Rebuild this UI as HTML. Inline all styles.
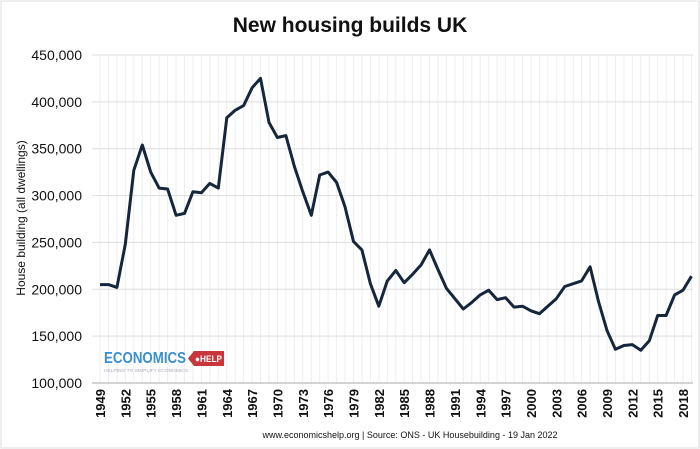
<!DOCTYPE html>
<html><head><meta charset="utf-8"><style>
body{margin:0;background:#fff;}
svg{display:block;font-family:"Liberation Sans",sans-serif;}
</style></head><body>
<svg id="c" width="700" height="449">
<rect x="1" y="1" width="698" height="447" fill="#fff" stroke="#ddd"/>
<text x="350" y="32" text-anchor="middle" font-size="21" font-weight="bold" fill="#111">New housing builds UK</text>
<text transform="translate(25,218) rotate(-90)" text-anchor="middle" font-size="12" fill="#111">House building (all dwellings)</text>
<g id="grid"></g><g id="yt"></g><g id="xt"></g>
<g>
<text x="104" y="363" font-size="16" font-weight="bold" fill="#3a8fd0" textLength="82" lengthAdjust="spacingAndGlyphs">ECONOMICS</text>
<path d="M194,351 h30 v15 h-30 l-6,-7.5z" fill="#c8363b"/>
<text x="195" y="362" font-size="9" font-weight="bold" fill="#fff" textLength="27" lengthAdjust="spacingAndGlyphs">●HELP</text>
<text x="104" y="372" font-size="4.5" fill="#aab" textLength="84" lengthAdjust="spacingAndGlyphs">HELPING TO SIMPLIFY ECONOMICS</text>
</g>
<text x="410" y="438" text-anchor="middle" font-size="9" fill="#111">www.economicshelp.org | Source: ONS - UK Housebuilding - 19 Jan 2022</text>
<path id="line" fill="none" stroke="#15263d" stroke-width="3" stroke-linejoin="round"/>
</svg>
<script>
const years=[];for(let y=1949;y<=2019;y++)years.push(y);
const values=[205,205,202,248,327,354,325,308,307,279,281,304,303,313,308,383,391,396,415,425,378,362,364,331,304,279,322,325,314,288,251,242,206,182,209,220,207,216,226,242,221,201,190,179,186,194,199,189,191,181,182,177,174,182,190,203,206,209,224,187,156,136,140,141,135,145,172,172,194,199,214].map(v=>v*1000);
const yTicks=[100000,150000,200000,250000,300000,350000,400000,450000];
const xLabelYears=[1949,1952,1955,1958,1961,1964,1967,1970,1973,1976,1979,1982,1985,1988,1991,1994,1997,2000,2003,2006,2009,2012,2015,2018];
const NS="http://www.w3.org/2000/svg";
const X=y=>100+(y-1949)*8.45, Y=v=>383-(v-100000)*328/350000;
function mk(t,a,p){const e=document.createElementNS(NS,t);for(const k in a)e.setAttribute(k,a[k]);p.appendChild(e);return e;}
const g=document.getElementById('grid'),yt=document.getElementById('yt'),xt=document.getElementById('xt');
years.forEach(y=>{const l=mk('line',{x1:X(y),x2:X(y),y1:Y(450000),y2:383,stroke:'#eee','stroke-width':1},g);

});
yTicks.forEach(v=>{const l=mk('line',{x1:92,x2:693,y1:Y(v),y2:Y(v),stroke:v===100000?'#aaa':'#ddd','stroke-width':1},g);


const t=mk('text',{x:82,y:Y(v)+5,'text-anchor':'end','font-size':14,fill:'#111'},yt);
t.textContent=v.toLocaleString('en-US');

});
xLabelYears.forEach(y=>{const t=mk('text',{transform:`translate(${X(y)+5},389) rotate(-90)`,'text-anchor':'end','font-size':13,'font-weight':'bold',fill:'#111'},xt);
t.textContent=y;

});
document.getElementById('line').setAttribute('d',years.map((y,i)=>(i?'L':'M')+X(y).toFixed(1)+','+Y(values[i]).toFixed(1)).join(''));
</script>
</body></html>
